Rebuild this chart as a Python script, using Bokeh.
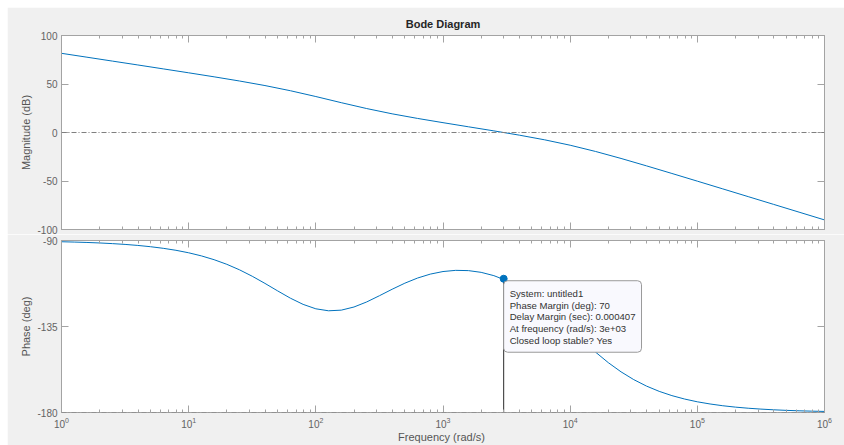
from bokeh.plotting import figure
from bokeh.models import Range1d, LogAxis, LinearAxis, FixedTicker, Label, Span
from bokeh.layouts import column
from bokeh.embed import file_html
from bokeh.resources import INLINE

# ---- open-loop frequency response (rad/s, dB, deg) ----
mag_freq = [1, 1.585, 2.512, 3.981, 6.31, 10, 15.85, 25.12, 39.81, 63.1,
            100, 158.5, 251.2, 398.1, 631, 1000, 1585, 2512, 3981, 6310,
            1e4, 1.585e4, 2.512e4, 3.981e4, 6.31e4, 1e5, 1.585e5, 2.512e5,
            3.981e5, 6.31e5, 1e6]
mag_db = [81.63, 77.63, 73.62, 69.62, 65.59, 61.54, 57.40, 53.08, 48.39, 43.07,
          37.07, 30.74, 24.68, 19.26, 14.50, 10.14, 5.89, 1.66, -2.73, -7.56,
          -13.12, -19.56, -26.75, -34.38, -42.22, -50.15, -58.13, -66.12,
          -74.11, -82.11, -90.11]

phase_freq = [1, 1.259, 1.585, 1.995, 2.512, 3.162, 3.981, 5.012, 6.31, 7.943,
              10, 12.59, 15.85, 19.95, 25.12, 31.62, 39.81, 50.12, 63.1, 79.43,
              100, 125.9, 158.5, 199.5, 251.2, 316.2, 398.1, 501.2, 631, 794.3,
              1000, 1259, 1585, 1995, 2512, 3162, 3981, 5012, 6310, 7943,
              1e4, 12590, 15850, 19950, 25120, 31620, 39810, 50120, 63100, 79430,
              1e5, 125900, 158500, 199500, 251200, 316200, 398100, 501200, 631000,
              794300, 1e6]
phase_deg = [-90.65, -90.82, -91.03, -91.29, -91.63, -92.05, -92.58, -93.25, -94.08, -95.12,
             -96.43, -98.05, -100.04, -102.46, -105.35, -108.71, -112.45, -116.38, -120.18, -123.43,
             -125.74, -126.78, -126.44, -124.80, -122.15, -118.90, -115.51, -112.33, -109.64, -107.59,
             -106.24, -105.62, -105.76, -106.67, -108.39, -110.96, -114.42, -118.78, -123.97, -129.82,
             -136.08, -142.40, -148.43, -153.92, -158.72, -162.79, -166.17, -168.93, -171.17, -172.96,
             -174.40, -175.54, -176.46, -177.19, -177.76, -178.22, -178.59, -178.88, -179.11, -179.29,
             -179.44]

# stability margins
crossover_freq = 3000
phase_margin = 70
delay_margin = 0.000407
phase_at_crossover = -180 + phase_margin

# axes
decades = [1, 10, 100, 1e3, 1e4, 1e5, 1e6]
mag_ticks = [-100, -50, 0, 50, 100]
phase_ticks = [-180, -135, -90]
minor_ticks = [m * d for d in decades[:-1] for m in range(2, 10)]

BLUE = "#0072bd"
FRAME = "#a3a3a3"
LABEL = "#636363"
FONT = "Liberation Sans"
BG = "#f0f0f0"


def style_axis(ax, show_labels=True):
    ax.axis_line_color = FRAME
    ax.major_tick_line_color = FRAME
    ax.minor_tick_line_color = FRAME
    ax.major_tick_in = 7
    ax.major_tick_out = 0
    ax.minor_tick_in = 3
    ax.minor_tick_out = 0
    ax.major_label_text_font = FONT
    ax.major_label_text_color = LABEL
    ax.axis_label_text_font = FONT
    ax.axis_label_text_color = "#555555"
    ax.axis_label_text_font_style = "normal"
    ax.axis_label_text_font_size = "11px"
    if show_labels:
        ax.major_label_text_font_size = "10px"
        ax.major_label_standoff = 4
        ax.axis_label_standoff = 2
    else:
        # ticks only: keep the labels tiny and transparent
        ax.major_label_text_font_size = "1px"
        ax.major_label_text_alpha = 0
        ax.major_label_standoff = 0


def make_panel(height, yr, yticks, top, bottom):
    p = figure(width=837, height=height, x_axis_type="log",
               x_range=Range1d(1, 1e6), y_range=Range1d(*yr),
               output_backend="svg", toolbar_location=None,
               min_border_left=54, min_border_right=20,
               min_border_top=top, min_border_bottom=bottom,
               background_fill_color="white", border_fill_color=BG,
               outline_line_color=FRAME)
    p.grid.visible = False
    xt = FixedTicker(ticks=decades, minor_ticks=minor_ticks)
    yt = FixedTicker(ticks=yticks)
    bottom_ax = p.below[0]
    left_ax = p.left[0]
    bottom_ax.ticker = xt
    left_ax.ticker = yt
    # plain hyphen minus signs on the value axis
    left_ax.major_label_overrides = {t: str(t) for t in yticks}
    top_ax = LogAxis(ticker=xt)
    right_ax = LinearAxis(ticker=yt)
    style_axis(top_ax, False)
    style_axis(right_ax, False)
    style_axis(left_ax, True)
    p.add_layout(top_ax, "above")
    p.add_layout(right_ax, "right")
    return p, bottom_ax, left_ax


# ---- magnitude ----
p1, p1_bottom, p1_left = make_panel(227, (-100, 100), mag_ticks, 28, 5)
style_axis(p1_bottom, False)
p1_left.axis_label = "Magnitude (dB)"
p1.title.text = "Bode Diagram"
p1.title.align = "center"
p1.title.text_font = FONT
p1.title.text_font_size = "11px"
p1.title.text_font_style = "bold"
p1.title.text_color = "#262626"
p1.title.standoff = 12

p1.add_layout(Span(location=0, dimension="width", line_color="#7f7f7f",
                   line_width=1, line_dash="5 2 1 2"))
p1.line(mag_freq, mag_db, line_color=BLUE, line_width=1)

# ---- phase ----
p2, p2_bottom, p2_left = make_panel(211, (-180, -90), phase_ticks, 6, 31)
style_axis(p2_bottom, True)
p2_bottom.major_label_standoff = 4
p2_bottom.axis_label_standoff = 0
p2_bottom.axis_label = "Frequency  (rad/s)"
p2_left.axis_label = "Phase (deg)"

p2.add_layout(Span(location=-180, dimension="width", line_color="#7f7f7f",
                   line_width=1, line_dash="5 2 1 2"))
p2.line(phase_freq, phase_deg, line_color=BLUE, line_width=1)
p2.segment(x0=[crossover_freq], y0=[phase_at_crossover],
           x1=[crossover_freq], y1=[-180], line_color="#2b2b2b", line_width=1)
p2.scatter([crossover_freq], [phase_at_crossover], size=7, color=BLUE)

tip = "\n".join([
    "System: untitled1",
    f"Phase Margin (deg): {phase_margin}",
    f"Delay Margin (sec): {delay_margin}",
    "At frequency (rad/s): 3e+03",
    "Closed loop stable? Yes",
])
p2.add_layout(Label(x=crossover_freq, y=phase_at_crossover, x_offset=0, y_offset=-2,
                    text=tip, text_font=FONT, text_font_size="9.6px",
                    text_color="#333333", text_align="left", text_baseline="top",
                    text_line_height=1.08,
                    background_fill_color="#f9f9fe", border_line_color="#9a9a9a",
                    padding=dict(left=6, right=6, top=7, bottom=6), border_radius=4))

layout = column(p1, p2, margin=(7, 0, 0, 7), spacing=0)

open("out.html", "w").write(file_html(layout, INLINE))
